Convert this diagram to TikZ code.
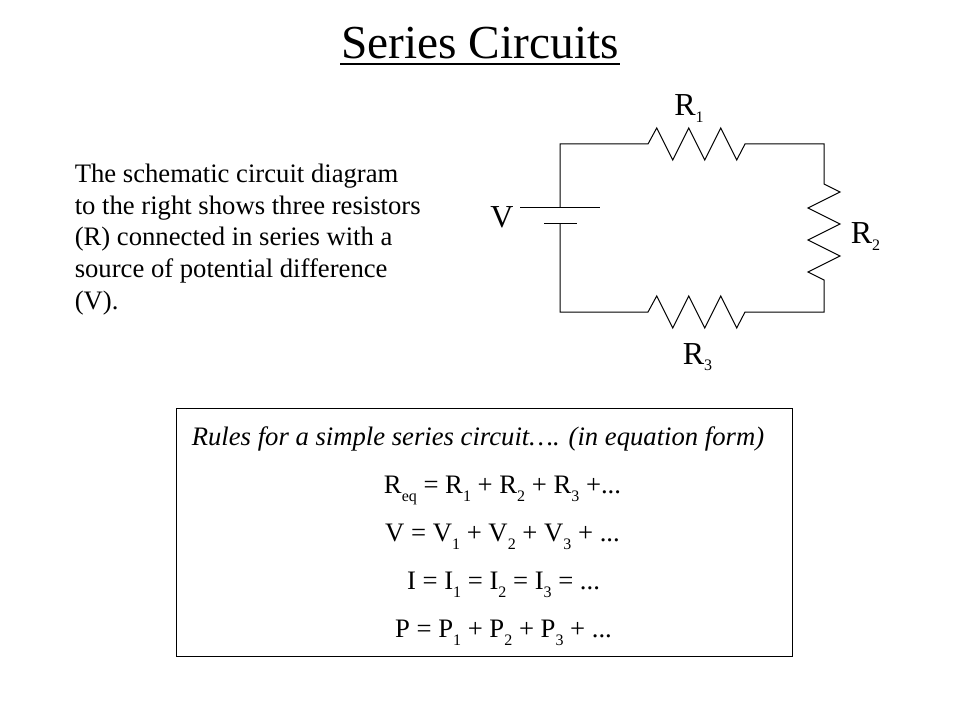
\documentclass[tikz,border=0pt]{standalone}
\usepackage{fontspec}
\setmainfont{Liberation Serif}
\usetikzlibrary{calc}
\newcommand{\zigzagright}{-- ++(8.7,-16) -- ++(16,32) -- ++(16,-32) -- ++(16,32) -- ++(16,-32) -- ++(16,32) -- ++(8.3,-16)}
\newcommand{\zigzagdown}{-- ++(16,8) -- ++(-32,16) -- ++(32,16) -- ++(-32,16) -- ++(32,16) -- ++(-32,16) -- ++(16,8)}
\newcommand{\labsub}[1]{\raisebox{-0.21em}{\scalebox{0.5}{#1}}}
\newcommand{\eqsub}[1]{\raisebox{-0.3em}{\scalebox{0.6}{#1}}}
\tikzset{
  wire/.style={line width=0.75pt},
  circlabel/.style={font=\fontsize{24}{28}\selectfont,inner sep=0pt,anchor=base},
  eqnode/.style={font=\fontsize{20}{24}\selectfont,inner sep=0pt,anchor=base}
}

\begin{document}
\begin{tikzpicture}[x=0.75pt,y=-0.75pt]
\useasboundingbox (0,0) rectangle (960,720);
\node [font=\fontsize{35.5}{40}\selectfont,inner sep=0pt,anchor=base] (title) at (480,58.3) {Series Circuits};
\draw [line width=1.5pt] ($(title.base west)+(-1,6)$) -- ($(title.base east)+(1,6)$);
\node [font=\fontsize{20}{23.7}\selectfont,inner sep=0pt,anchor=north west,align=left] (description) at (74.5,164) {
The schematic circuit diagram\\
to the right shows three resistors\\
(R) connected in series with a\\
source of potential difference\\
(V).
};
% circuit corners
\coordinate (topleft) at (560,144);
\coordinate (topright) at (824,144);
\coordinate (bottomright) at (824,312);
\coordinate (bottomleft) at (560,312);
\coordinate (longplate) at (560,208);
\coordinate (shortplate) at (560,224);
\coordinate (rtwotop) at (824,184);
\draw [wire] (longplate) -- (topleft) -- (648,144) \zigzagright -- (topright) -- (rtwotop) \zigzagdown -- (bottomright) -- (745,312);
\draw [wire] (shortplate) -- (bottomleft) -- (648,312) \zigzagright -- (745,312);
\draw [wire] ($(longplate)+(-40,0)$) -- ($(longplate)+(40,0)$);
\draw [wire] ($(shortplate)+(-16,0)$) -- ($(shortplate)+(17,0)$);
\node [circlabel] (rone) at (689,116) {R\labsub{1}};
\node [circlabel] (rtwo) at (865.5,244) {R\labsub{2}};
\node [circlabel] (rthree) at (697.5,364) {R\labsub{3}};
\node [circlabel] (vsource) at (502,228) {V};
\node [draw,line width=0.75pt,inner sep=0pt,minimum width=462pt,minimum height=186pt] (rulesbox) at (484,532) {};
\node [inner sep=0pt,anchor=base,font=\fontsize{20}{24}\selectfont\itshape] (rulestitle) at (478,445) {Rules for a simple series circuit…. (in equation form)};
\node [eqnode] (eqr) at (502.5,493) {R\eqsub{eq} = R\eqsub{1} + R\eqsub{2} + R\eqsub{3} +...};
\node [eqnode] (eqv) at (502.5,541) {V = V\eqsub{1} + V\eqsub{2} + V\eqsub{3} + ...};
\node [eqnode] (eqi) at (503.5,589) {I = I\eqsub{1} = I\eqsub{2} = I\eqsub{3} = ...};
\node [eqnode] (eqp) at (503.5,637) {P = P\eqsub{1} + P\eqsub{2} + P\eqsub{3} + ...};
\end{tikzpicture}
\end{document}
